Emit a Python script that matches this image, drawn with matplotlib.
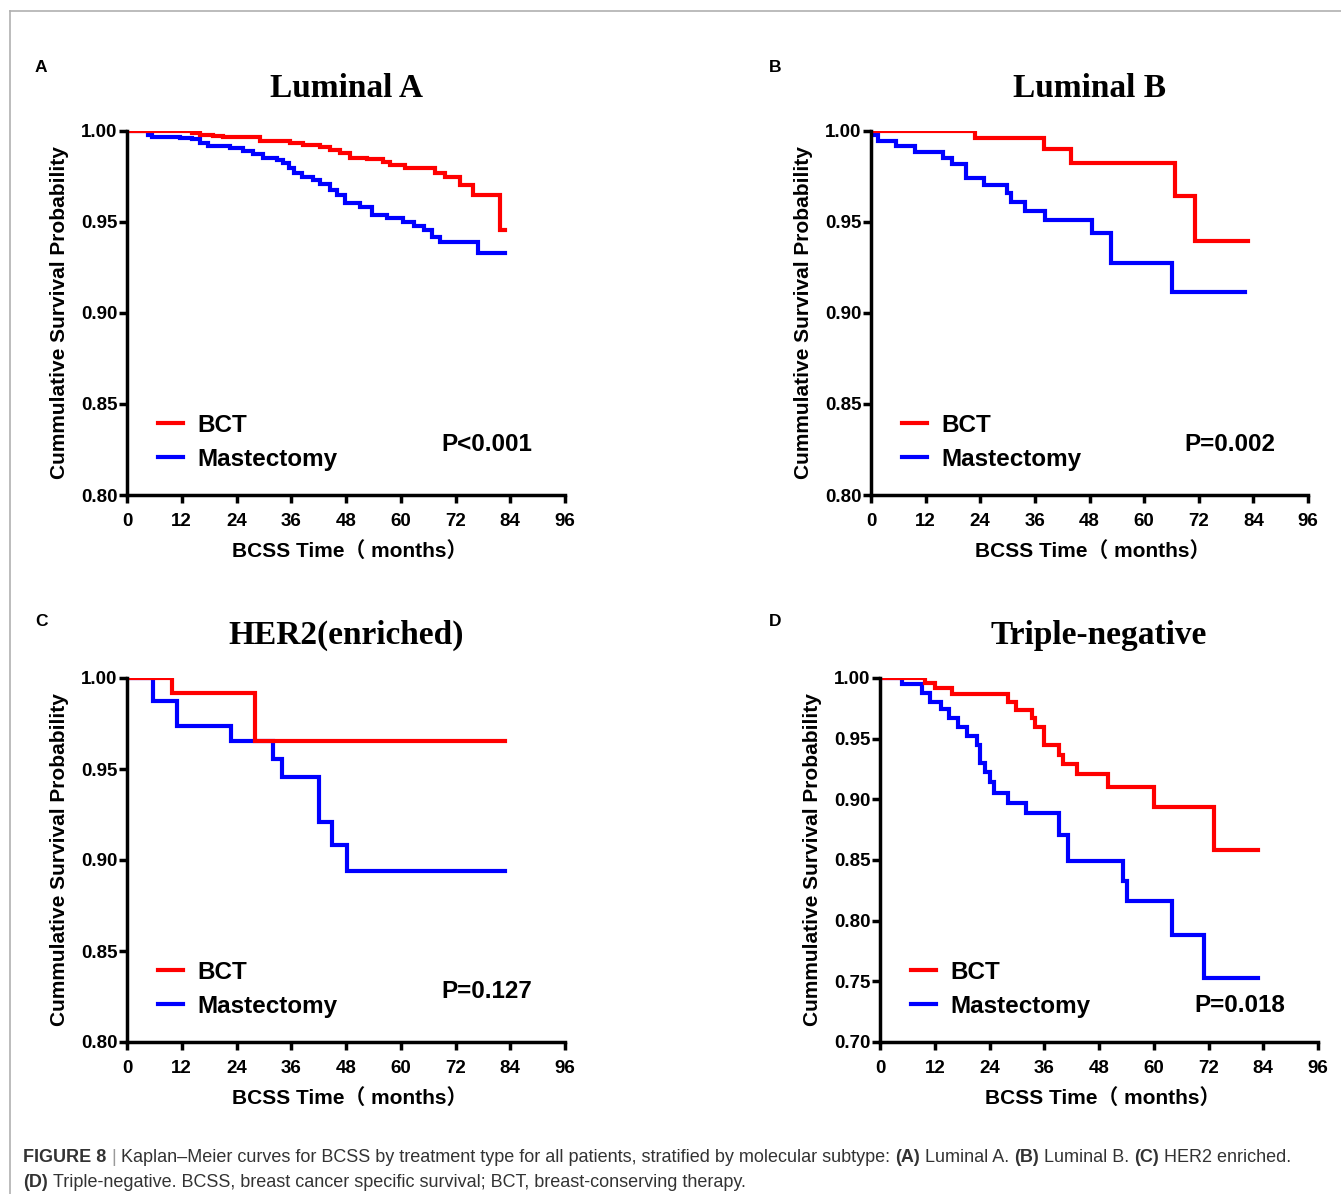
import matplotlib
matplotlib.use("Agg")
import matplotlib.pyplot as plt
from matplotlib.lines import Line2D
from matplotlib.font_manager import FontProperties

W, H = 1341, 1194

# ---------------- data ----------------
titles = ["Luminal A", "Luminal B", "HER2(enriched)", "Triple-negative"]
panel_letters = ["A", "B", "C", "D"]
p_values = ["P<0.001", "P=0.002", "P=0.127", "P=0.018"]
series_labels = ["BCT", "Mastectomy"]
x_ticks = [0, 12, 24, 36, 48, 60, 72, 84, 96]
y_ticks_abc = [0.80, 0.85, 0.90, 0.95, 1.00]
y_ticks_d = [0.70, 0.75, 0.80, 0.85, 0.90, 0.95, 1.00]
x_label = "BCSS Time（ months）"
y_label = "Cummulative Survival Probability"

# Luminal A
lumA_bct_t = [0, 14.2, 16.0, 18.9, 21.1, 29.2, 35.7, 38.6, 42.3, 44.5, 46.7, 48.9,
              52.5, 56.2, 57.6, 60.9, 67.5, 69.7, 73.0, 75.8, 81.8, 82.8]
lumA_bct_s = [1.0, 0.9987, 0.9978, 0.9973, 0.9965, 0.9945, 0.9932, 0.9923, 0.9914,
              0.9896, 0.9877, 0.985, 0.9844, 0.9832, 0.9813, 0.9795, 0.9771, 0.9745,
              0.9703, 0.9648, 0.9456, 0.9456]
lumA_mas_t = [0, 4.7, 5.4, 11.6, 14.2, 16.0, 17.8, 22.6, 25.5, 27.7, 29.9, 32.8, 34.3,
              35.4, 36.5, 38.3, 40.8, 42.3, 44.5, 46.0, 47.8, 51.1, 53.6, 56.9, 60.6,
              62.8, 65.0, 66.8, 68.6, 77.0, 82.8]
lumA_mas_s = [1.0, 0.9978, 0.9969, 0.996, 0.9955, 0.9936, 0.9918, 0.9905, 0.989, 0.9872,
              0.9854, 0.9841, 0.9826, 0.9795, 0.9767, 0.9745, 0.973, 0.9709, 0.9676,
              0.9648, 0.9606, 0.9581, 0.9538, 0.952, 0.9502, 0.9478, 0.9456, 0.9416,
              0.9388, 0.9331, 0.9331]

# Luminal B
lumB_bct_t = [0, 22.8, 37.9, 43.9, 66.8, 71.2, 82.9]
lumB_bct_s = [1.0, 0.996, 0.990, 0.9823, 0.9643, 0.9397, 0.9397]
lumB_mas_t = [0, 0.9, 1.6, 5.6, 9.7, 15.9, 17.7, 20.9, 24.8, 29.8, 30.7, 33.8, 38.3,
              48.6, 52.8, 66.1, 82.2]
lumB_mas_s = [1.0, 0.9978, 0.9947, 0.9918, 0.9883, 0.9854, 0.9817, 0.974, 0.9703,
              0.966, 0.9612, 0.9562, 0.951, 0.9437, 0.9273, 0.9114, 0.9114]

# HER2 enriched
her2_bct_t = [0, 9.8, 28.1, 82.8]
her2_bct_s = [1.0, 0.9916, 0.9654, 0.9654]
her2_mas_t = [0, 5.8, 10.9, 22.9, 31.9, 33.9, 42.1, 45.0, 48.2, 82.8]
her2_mas_s = [1.0, 0.9874, 0.9738, 0.9654, 0.9555, 0.9454, 0.9207, 0.9082, 0.894, 0.894]

# Triple-negative
tn_bct_t = [0, 9.9, 12.1, 15.7, 28.1, 29.9, 33.4, 34.0, 35.9, 39.3, 40.0, 43.1, 50.0,
            60.1, 73.2, 82.9]
tn_bct_s = [1.0, 0.9962, 0.9915, 0.9868, 0.9805, 0.9736, 0.9668, 0.9593, 0.9448,
            0.9365, 0.9289, 0.9206, 0.9104, 0.8939, 0.8582, 0.8582]
tn_mas_t = [0, 4.8, 9.1, 11.0, 13.3, 15.1, 17.2, 19.1, 21.2, 21.9, 23.0, 24.0, 25.0,
            28.0, 32.1, 39.3, 41.1, 53.3, 54.1, 64.1, 71.1, 82.9]
tn_mas_s = [1.0, 0.995, 0.9874, 0.9805, 0.9742, 0.9673, 0.9599, 0.9525, 0.9448, 0.9297,
            0.9228, 0.9146, 0.905, 0.8973, 0.889, 0.8706, 0.8492, 0.8329, 0.8165,
            0.7882, 0.7525, 0.7525]

panels = [
    (lumA_bct_t, lumA_bct_s, lumA_mas_t, lumA_mas_s, y_ticks_abc),
    (lumB_bct_t, lumB_bct_s, lumB_mas_t, lumB_mas_s, y_ticks_abc),
    (her2_bct_t, her2_bct_s, her2_mas_t, her2_mas_s, y_ticks_abc),
    (tn_bct_t, tn_bct_s, tn_mas_t, tn_mas_s, y_ticks_d),
]

# ---------------- layout (pixels) ----------------
axes_px = [(127, 131, 565, 495), (871, 131, 1308, 495),
           (127, 678, 565, 1042), (880, 678, 1318, 1042)]
letter_px = [(35, 67), (769, 67), (35, 621), (769, 622)]

plt.rcParams["font.family"] = ["Liberation Sans", "Noto Sans CJK SC"]
plt.rcParams["font.weight"] = "bold"

fig = plt.figure(figsize=(W / 100, H / 100), dpi=100)
fig.patch.set_facecolor("white")

RED = "#ff0000"
BLUE = "#0000ff"

for i, (bt, bs, mt, ms, yt) in enumerate(panels):
    l, t, r, b = axes_px[i]
    ax = fig.add_axes([l / W, 1 - b / H, (r - l) / W, (b - t) / H])
    lm, = ax.step(mt, ms, where="post", color=BLUE, lw=3, solid_joinstyle="miter")
    lb, = ax.step(bt, bs, where="post", color=RED, lw=3, solid_joinstyle="miter")
    ax.set_xlim(0, 96)
    ax.set_ylim(yt[0], 1.0)
    ax.set_xticks(x_ticks)
    ax.set_yticks(yt)
    ax.set_yticklabels([f"{v:.2f}" for v in yt])
    for s in ("top", "right"):
        ax.spines[s].set_visible(False)
    for s in ("left", "bottom"):
        ax.spines[s].set_linewidth(2.5)
    ax.tick_params(axis="both", direction="out", length=6, width=2.5,
                   labelsize=13.5, colors="black")
    ax.tick_params(axis="y", pad=1)
    ax.tick_params(axis="x", pad=7)
    ax.set_xlabel(x_label, fontsize=15, fontweight="bold", va="center")
    ax.xaxis.set_label_coords(0.508, -0.154)
    ax.set_ylabel(y_label, fontsize=15, fontweight="bold", va="center")
    ax.yaxis.set_label_coords(-0.155, 0.5)
    ax.set_title(titles[i], fontsize=24, fontweight="bold",
                 family="Liberation Serif", pad=24.5)
    ax.legend([lb, lm], series_labels, loc="center left",
              bbox_to_anchor=(0.071, 0.145), frameon=False,
              prop={"weight": "bold", "size": 17.5},
              handlelength=1.03, handletextpad=0.58, labelspacing=0.45,
              borderpad=0, borderaxespad=0)
    py = 0.099 if i == 3 else 0.138
    ax.text(0.717, py, p_values[i], transform=ax.transAxes, fontsize=17.5,
            fontweight="bold", va="center", ha="left")
    lx, ly = letter_px[i]
    fig.text(lx / W, 1 - ly / H, panel_letters[i], fontsize=12.5, fontweight="bold",
             va="center", ha="left")

# frame lines
fig.add_artist(Line2D([10 / W, 1.0], [1 - 11 / H, 1 - 11 / H], color="#b0b0b0",
                      lw=1.2, transform=fig.transFigure))
fig.add_artist(Line2D([10 / W, 10 / W], [0.0, 1 - 11 / H], color="#b0b0b0",
                      lw=1.2, transform=fig.transFigure))

# caption
renderer = fig.canvas.get_renderer()
CAP = 13
TXT = "#333333"


def space_w(weight, size):
    fp = FontProperties(family=["Liberation Sans"], weight=weight, size=size)
    w1, _, _ = renderer.get_text_width_height_descent("n n", fp, ismath=False)
    w2, _, _ = renderer.get_text_width_height_descent("nn", fp, ismath=False)
    return w1 - w2


def run_line(x_px, y_px, runs, size):
    x = x_px
    for text, weight, color in runs:
        lead = len(text) - len(text.lstrip(" "))
        trail = len(text) - len(text.rstrip(" "))
        core = text.strip(" ")
        sw = space_w(weight, size)
        x += lead * sw
        t = fig.text(x / W, 1 - y_px / H, core, fontsize=size, fontweight=weight,
                     color=color, va="baseline", ha="left")
        bb = t.get_window_extent(renderer)
        x = bb.x1 + trail * sw


line1 = [("FIGURE 8", "bold", TXT), (" | ", "normal", "#9a9a9a"),
         ("Kaplan–Meier curves for BCSS by treatment type for all patients, "
          "stratified by molecular subtype: ", "normal", TXT),
         ("(A)", "bold", TXT), (" Luminal A. ", "normal", TXT),
         ("(B)", "bold", TXT), (" Luminal B. ", "normal", TXT),
         ("(C)", "bold", TXT), (" HER2 enriched.", "normal", TXT)]
line2 = [("(D)", "bold", TXT),
         (" Triple-negative. BCSS, breast cancer specific survival; BCT, "
          "breast-conserving therapy.", "normal", TXT)]
run_line(23, 1162, line1, CAP)
run_line(23, 1187, line2, CAP)

fig.savefig("out.png", dpi=100, facecolor="white")
